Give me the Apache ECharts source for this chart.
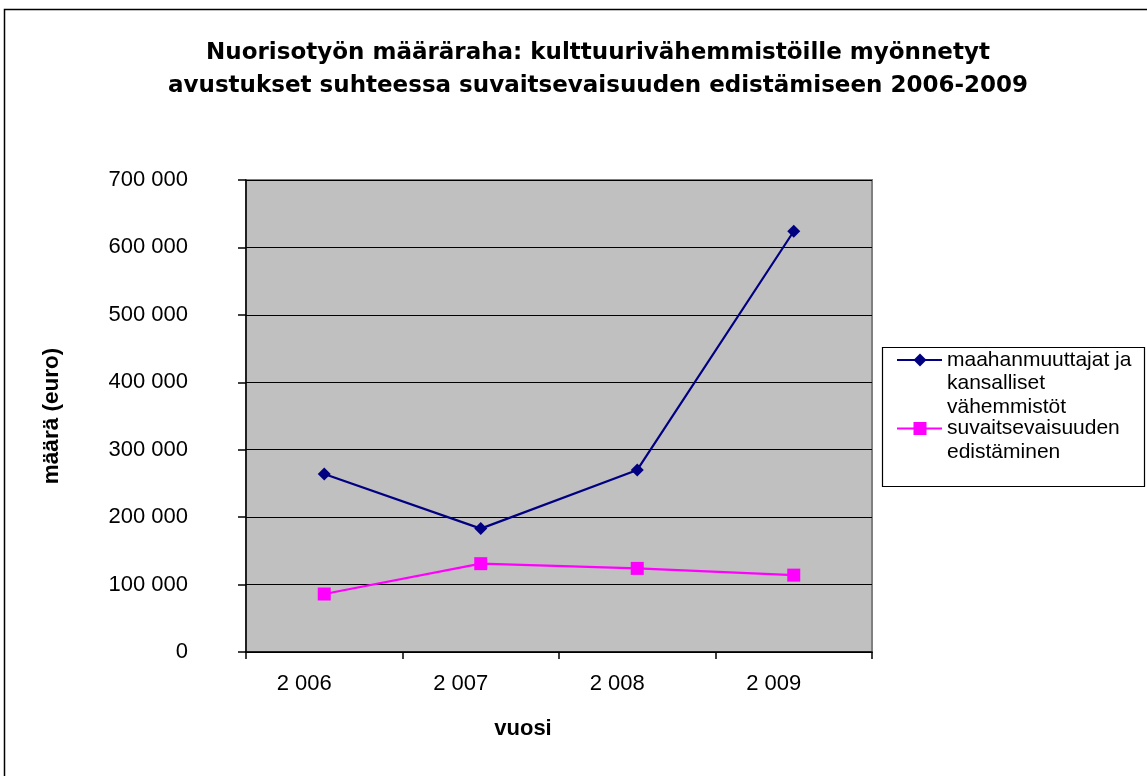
<!DOCTYPE html>
<html>
<head>
<meta charset="utf-8">
<script src="https://cdn.jsdelivr.net/npm/echarts@6/dist/echarts.min.js"></script>
<style>
html,body{margin:0;padding:0;background:#fff;}
#chart{width:1147px;height:776px;}
</style>
</head>
<body>
<div id="chart"></div>
<script>
const titleText = 'Nuorisotyön määräraha: kulttuurivähemmistöille myönnetyt\navustukset suhteessa suvaitsevaisuuden edistämiseen 2006-2009';
const categories = ['2 006', '2 007', '2 008', '2 009'];
const seriesNames = ['maahanmuuttajat ja\nkansalliset\nvähemmistöt', 'suvaitsevaisuuden\nedistäminen'];
const immigrantMinorities = [264000, 183000, 270000, 624000];
const tolerancePromotion = [86000, 131000, 124000, 114000];
const yAxisName = 'määrä (euro)';
const xAxisName = 'vuosi';

const colors = ['#000080', '#FF00FF'];
const FONT = '"Liberation Sans", Arial, sans-serif';

function fmt(v) {
  return String(v).replace(/\B(?=(\d{3})+(?!\d))/g, ' ');
}

const chart = echarts.init(document.getElementById('chart'), null, {renderer: 'canvas'});

const legendX = 882, legendY = 347;
const L = 23.5;

const option = {
  backgroundColor: '#ffffff',
  animation: false,
  title: {
    text: titleText,
    left: 598,
    textAlign: 'center',
    top: 37,
    padding: 0,
    textStyle: {
      fontFamily: '"DejaVu Sans", sans-serif',
      fontWeight: 'bold',
      fontSize: 23,
      lineHeight: 33,
      color: '#000'
    }
  },
  grid: {
    left: 246,
    right: 275,
    top: 180,
    bottom: 124,
    show: true,
    backgroundColor: '#C0C0C0',
    borderColor: '#808080',
    borderWidth: 2
  },
  xAxis: {
    type: 'category',
    data: categories,
    boundaryGap: true,
    name: xAxisName,
    nameLocation: 'middle',
    nameGap: 66,
    nameTextStyle: {
      fontFamily: FONT, fontWeight: 'bold', fontSize: 22, color: '#000',
      padding: [0, 72, 0, 0]
    },
    axisLine: {lineStyle: {color: '#000', width: 1.5}},
    axisTick: {show: true, alignWithLabel: false, length: 7, lineStyle: {color: '#000', width: 1.5}},
    axisLabel: {
      fontFamily: FONT, fontSize: 22, color: '#000', margin: 21,
      padding: [0, 40, 0, 0]
    },
    splitLine: {show: false}
  },
  yAxis: {
    type: 'value',
    min: 0,
    max: 700000,
    interval: 100000,
    name: yAxisName,
    nameLocation: 'middle',
    nameGap: 183,
    nameRotate: 90,
    nameTextStyle: {fontFamily: FONT, fontWeight: 'bold', fontSize: 22.5, color: '#000'},
    axisLine: {show: true, lineStyle: {color: '#000', width: 1.5}},
    axisTick: {show: true, inside: false, length: 8, lineStyle: {color: '#000', width: 1.5}},
    axisLabel: {fontFamily: FONT, fontSize: 22, color: '#000', margin: 58, formatter: fmt},
    splitLine: {show: true, lineStyle: {color: '#000', width: 1.2}}
  },
  series: [
    {
      name: seriesNames[0],
      type: 'line',
      data: immigrantMinorities,
      symbol: 'diamond',
      symbolSize: 13,
      lineStyle: {color: colors[0], width: 2.2},
      itemStyle: {color: colors[0]},
      z: 3
    },
    {
      name: seriesNames[1],
      type: 'line',
      data: tolerancePromotion,
      symbol: 'rect',
      symbolSize: 13,
      lineStyle: {color: colors[1], width: 2.2},
      itemStyle: {color: colors[1]},
      z: 2
    }
  ],
  graphic: [
    {
      type: 'rect', z: -10, silent: true,
      shape: {x: 4.5, y: 9.5, width: 1300, height: 900},
      style: {fill: 'none', stroke: '#000', lineWidth: 1.5}
    },
    {
      type: 'rect', z: 10, silent: true,
      shape: {x: legendX + 0.5, y: legendY + 0.5, width: 262, height: 139},
      style: {fill: '#fff', stroke: '#000', lineWidth: 1.2}
    },
    {
      type: 'line', z: 11, silent: true,
      shape: {x1: 897, y1: 360, x2: 942, y2: 360},
      style: {stroke: colors[0], lineWidth: 2.2}
    },
    {
      type: 'polygon', z: 12, silent: true,
      shape: {points: [[920, 353.5], [926.5, 360], [920, 366.5], [913.5, 360]]},
      style: {fill: colors[0]}
    },
    {
      type: 'text', z: 12, silent: true,
      x: 947, y: 360 - L / 2,
      style: {
        text: seriesNames[0], fontFamily: FONT, fontSize: 21, lineHeight: L,
        fill: '#000', verticalAlign: 'top', align: 'left'
      }
    },
    {
      type: 'line', z: 11, silent: true,
      shape: {x1: 897, y1: 428.5, x2: 942, y2: 428.5},
      style: {stroke: colors[1], lineWidth: 2.2}
    },
    {
      type: 'rect', z: 12, silent: true,
      shape: {x: 913.5, y: 422, width: 13, height: 13},
      style: {fill: colors[1]}
    },
    {
      type: 'text', z: 12, silent: true,
      x: 947, y: 428.5 - L / 2,
      style: {
        text: seriesNames[1], fontFamily: FONT, fontSize: 21, lineHeight: L,
        fill: '#000', verticalAlign: 'top', align: 'left'
      }
    }
  ]
};

chart.setOption(option);
</script>
</body>
</html>
